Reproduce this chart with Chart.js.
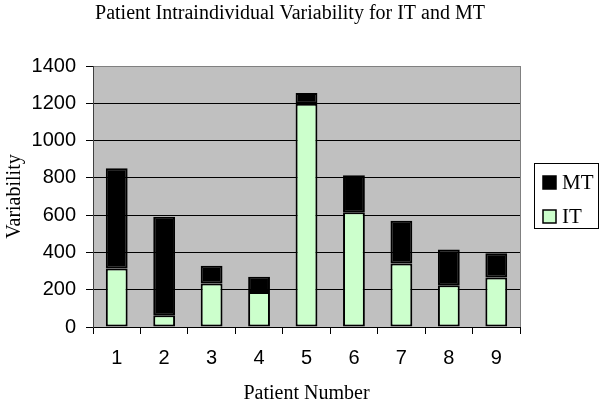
<!DOCTYPE html>
<html><head><meta charset="utf-8">
<script src="https://cdn.jsdelivr.net/npm/chart.js@4/dist/chart.umd.min.js"></script>
<style>html,body{margin:0;padding:0;background:#fff}#wrap{width:600px;height:404px;position:relative}</style>
</head><body><div id="wrap"><canvas id="c" width="600" height="404"></canvas></div>
<script>
const categories = ['1', '2', '3', '4', '5', '6', '7', '8', '9'];
const itValues = [314, 63, 233, 188, 1197, 615, 341, 224, 266];
const mtValues = [537, 528, 95, 81, 58, 199, 229, 192, 129];
const yTickValues = [0, 200, 400, 600, 800, 1000, 1200, 1400];
const seriesLabels = ['IT', 'MT'];
const titleText = 'Patient Intraindividual Variability for IT and MT';
const xTitle = 'Patient Number';
const yTitle = 'Variability';

const SERIF = '"Liberation Serif", "Times New Roman", serif';
const SANS = '"Liberation Sans", Arial, sans-serif';

const plotBg = {
  id: 'plotBg',
  beforeDraw(chart) {
    const {ctx, chartArea: a} = chart;
    ctx.save();
    ctx.fillStyle = '#c0c0c0';
    ctx.fillRect(a.left, a.top, a.right - a.left, a.bottom - a.top);
    ctx.strokeStyle = '#808080';
    ctx.lineWidth = 1;
    ctx.beginPath();
    ctx.moveTo(Math.round(a.right) + 0.5, a.top);
    ctx.lineTo(Math.round(a.right) + 0.5, a.bottom);
    ctx.stroke();
    ctx.restore();
  }
};

const boxLegend = {
  id: 'boxLegend',
  afterDraw(chart) {
    const ctx = chart.ctx;
    ctx.save();
    ctx.strokeStyle = '#000';
    ctx.lineWidth = 1;
    ctx.strokeRect(534.5, 163.5, 64, 65);
    const items = chart.data.datasets.slice().reverse();
    items.forEach((ds, i) => {
      const y = 176 + i * 34;
      ctx.fillStyle = ds.backgroundColor;
      ctx.fillRect(543, y, 13, 13);
      ctx.lineWidth = 1.5;
      ctx.strokeStyle = '#000';
      ctx.strokeRect(543, y, 13, 13);
      ctx.fillStyle = '#000';
      ctx.font = '21px ' + SERIF;
      ctx.textBaseline = 'middle';
      ctx.textAlign = 'left';
      ctx.fillText(ds.label, 562, y + 7);
    });
    ctx.restore();
  }
};

new Chart(document.getElementById('c'), {
  type: 'bar',
  data: {
    labels: categories,
    datasets: [
      {label: seriesLabels[0], data: itValues, backgroundColor: '#ccffcc', borderColor: '#000', borderWidth: 2, borderSkipped: false},
      {label: seriesLabels[1], data: mtValues, backgroundColor: '#000000', borderColor: '#000', borderWidth: 2, borderSkipped: false}
    ]
  },
  options: {
    responsive: false,
    animation: false,
    devicePixelRatio: 1,
    layout: {padding: {left: 0, right: 20, top: 0, bottom: 0}},
    datasets: {bar: {barPercentage: 0.46, categoryPercentage: 1}},
    plugins: {
      legend: {display: false},
      tooltip: {enabled: false},
      title: {
        display: true, text: titleText, color: '#000',
        font: {family: SERIF, size: 20, weight: 'normal', lineHeight: 1.2},
        padding: {top: 2, bottom: 40}
      }
    },
    scales: {
      x: {
        stacked: true,
        afterFit(s) { s.height = 77; },
        grid: {display: true, drawOnChartArea: false, drawTicks: true, tickLength: 7, tickColor: '#000', offset: true},
        border: {display: true, color: '#000', width: 1},
        ticks: {color: '#000', padding: 12, font: {family: SANS, size: 20}},
        title: {display: true, text: xTitle, color: '#000', font: {family: SERIF, size: 20, lineHeight: 1.0}, padding: {top: 0, bottom: 0}}
      },
      y: {
        stacked: true,
        min: 0, max: 1400,
        afterFit(s) { s.width = 93; },
        afterBuildTicks(s) { s.ticks = yTickValues.map(v => ({value: v})); },
        grid: {
          color: c => (c.tick && c.tick.value === 1400) ? '#808080' : '#000',
          lineWidth: 1, tickLength: 7, tickColor: '#000', drawTicks: true
        },
        border: {display: true, color: '#404040', width: 1},
        ticks: {color: '#000', padding: 10, font: {family: SANS, size: 20}, callback: v => String(v)},
        title: {display: true, text: yTitle, color: '#000', font: {family: SERIF, size: 20, lineHeight: 1.2}, padding: {top: 3, bottom: 0}}
      },
      spacer: {
        type: 'linear',
        position: 'right',
        display: true,
        afterFit(s) { s.width = 60; },
        grid: {display: false, drawTicks: false},
        border: {display: false},
        ticks: {display: false},
        title: {display: false}
      }
    }
  },
  plugins: [plotBg, boxLegend]
});
</script>
</body></html>
